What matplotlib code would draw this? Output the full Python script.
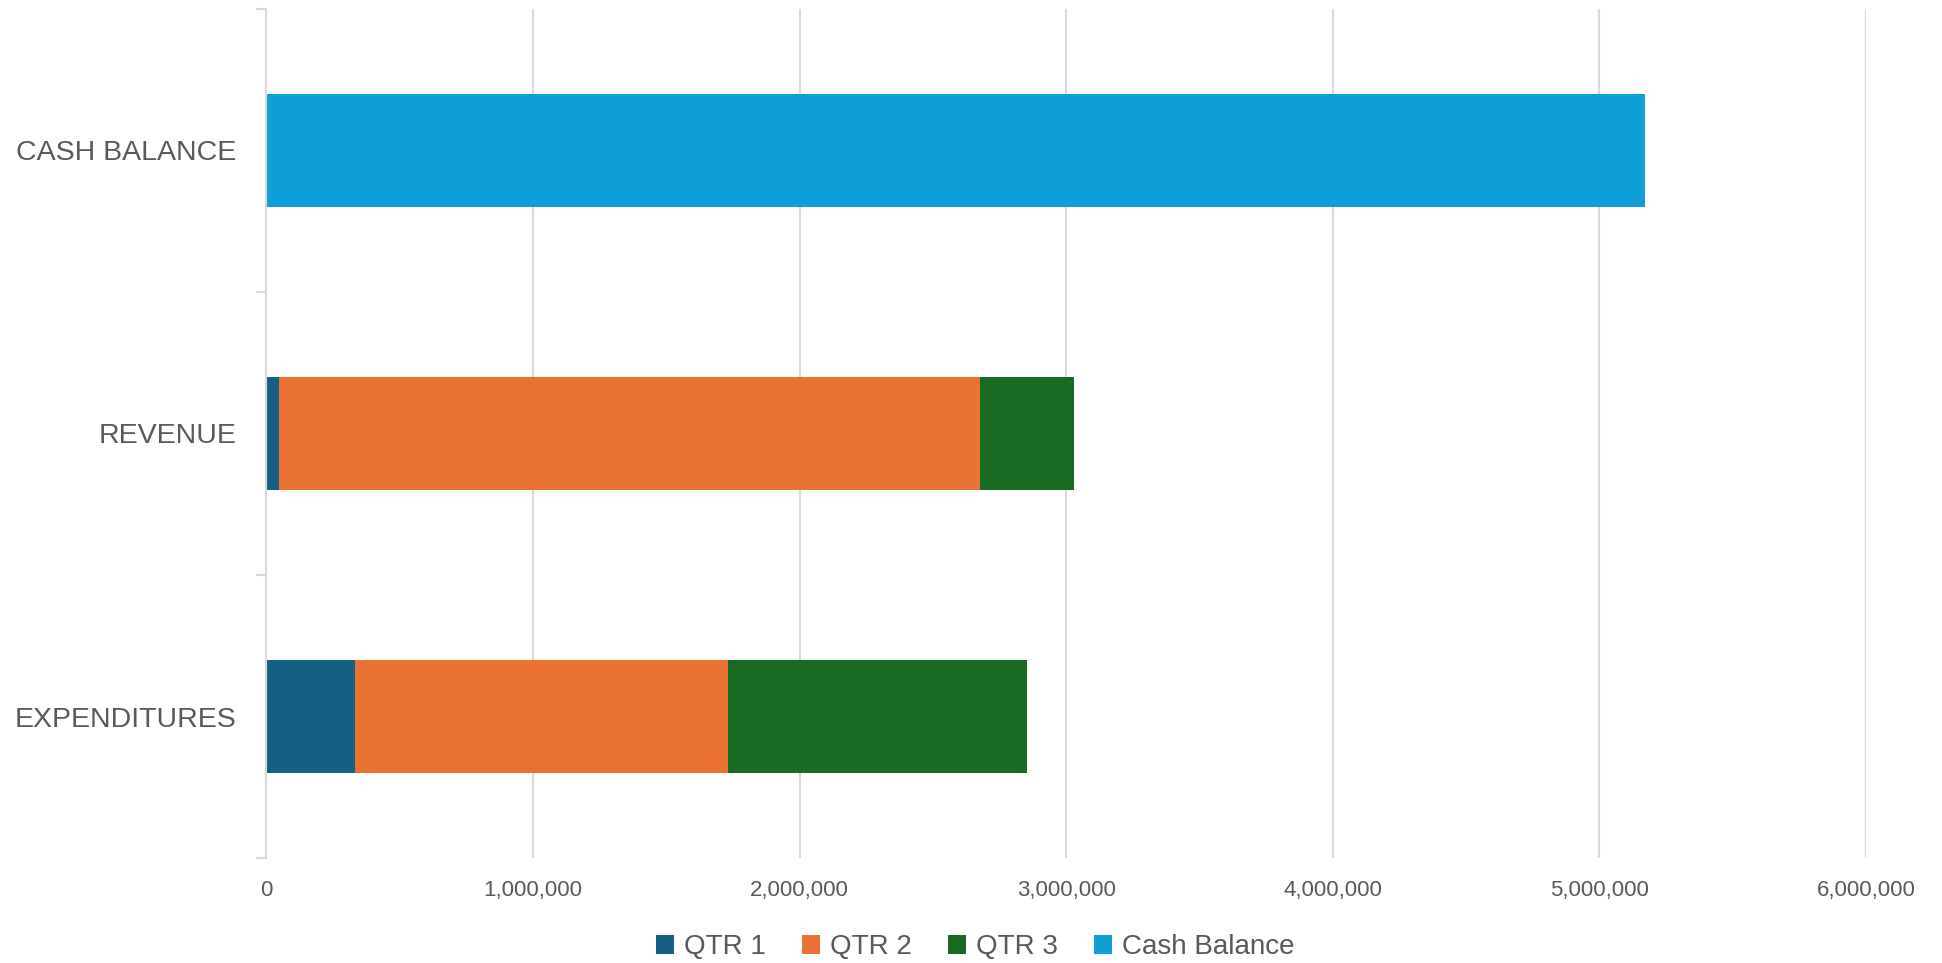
import matplotlib.pyplot as plt
import numpy as np
from matplotlib.ticker import FuncFormatter, FixedLocator

plt.rcParams['font.family'] = ['Liberation Sans', 'DejaVu Sans']

categories = ["EXPENDITURES", "REVENUE", "CASH BALANCE"]
series_names = ["QTR 1", "QTR 2", "QTR 3", "Cash Balance"]
qtr1 = [332000, 48000, 0]
qtr2 = [1398000, 2630000, 0]
qtr3 = [1123000, 352000, 0]
cash_balance = [0, 0, 5172000]
x_ticks = [0, 1000000, 2000000, 3000000, 4000000, 5000000, 6000000]

colors = ["#156082", "#E97132", "#196B24", "#0F9ED5"]
text_color = "#595959"
grid_color = "#d9d9d9"

fig = plt.figure(figsize=(19.42, 9.63), dpi=100)
ax = fig.add_axes([0.1372, 0.1090, 0.8237, 0.8817])

y = np.arange(len(categories))
left = np.zeros(len(categories))
for name, vals, c in zip(series_names, [qtr1, qtr2, qtr3, cash_balance], colors):
    ax.barh(y, vals, height=0.4, left=left, color=c, label=name, zorder=3)
    left += np.array(vals)

ax.set_xlim(0, 6000000)
ax.set_ylim(-0.5, len(categories) - 0.5)

ax.xaxis.set_major_locator(FixedLocator(x_ticks))
ax.xaxis.set_major_formatter(FuncFormatter(lambda v, p: f"{int(v):,}"))
ax.grid(axis='x', color=grid_color, linewidth=1.5, zorder=0)
ax.tick_params(axis='x', length=0, pad=16, labelsize=16, labelcolor=text_color)

# category labels sit on minor ticks, boundary marks on major ticks
ax.set_yticks(np.arange(len(categories) + 1) - 0.5)
ax.set_yticklabels([])
ax.set_yticks(y, minor=True)
ax.set_yticklabels(categories, minor=True)
ax.tick_params(axis='y', which='major', length=7, width=1.5, color=grid_color)
ax.tick_params(axis='y', which='minor', length=0, pad=21.6, labelsize=20.5, labelcolor=text_color)

for s in ['top', 'right', 'bottom']:
    ax.spines[s].set_visible(False)
ax.spines['left'].set_color(grid_color)
ax.spines['left'].set_linewidth(1.5)
ax.spines['left'].set_zorder(4)

fig.legend(loc='center', bbox_to_anchor=(0.502, 0.0166), ncol=4, frameon=False,
           fontsize=20, labelcolor=text_color, handlelength=0.65, handleheight=0.65,
           handletextpad=0.36, columnspacing=1.3, borderpad=0)

fig.savefig("out.png", dpi=100, facecolor='white')
